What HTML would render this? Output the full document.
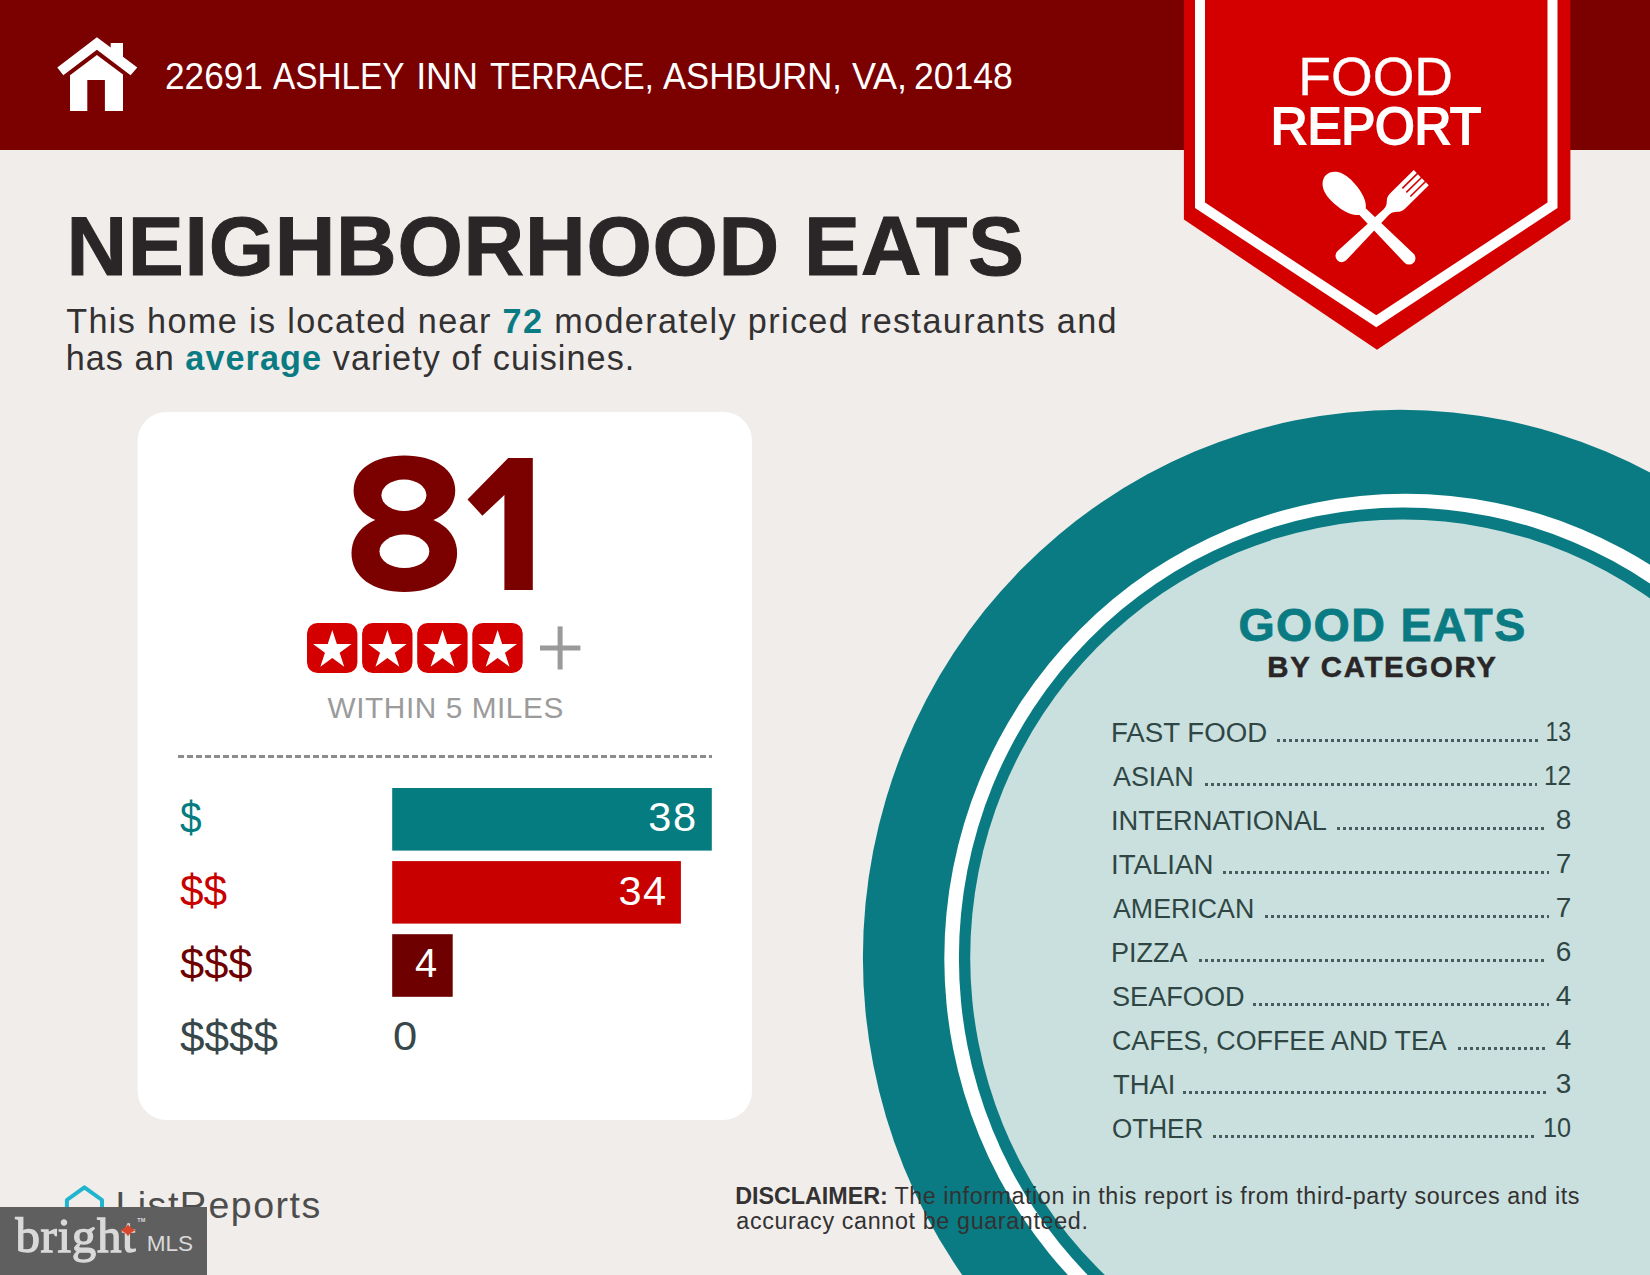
<!DOCTYPE html>
<html lang="en">
<head>
<meta charset="utf-8">
<title>Food Report - Neighborhood Eats</title>
<style>
html,body{margin:0;padding:0;}
body{width:1650px;height:1275px;position:relative;overflow:hidden;background:#f1edea;font-family:"Liberation Sans",sans-serif;}
.abs{position:absolute;}
.t{position:absolute;white-space:nowrap;line-height:1;margin:0;padding:0;}
.t b{font-weight:700;}
.teal{color:#0a7b82;}
svg{position:absolute;left:0;top:0;overflow:visible;}
.dots{position:absolute;height:3px;background-image:repeating-linear-gradient(90deg,#35504e 0,#35504e 3px,transparent 3px,transparent 6px);opacity:.9;}
</style>
</head>
<body>
<!-- background shapes -->
<svg width="1650" height="1275" viewBox="0 0 1650 1275">
  <!-- plate circles -->
  <ellipse cx="1400.3" cy="957.7" rx="537.4" ry="547.9" fill="#0a7b82"/>
  <ellipse cx="1405.3" cy="958.4" rx="461" ry="464.6" fill="#ffffff"/>
  <ellipse cx="1403.1" cy="957.9" rx="444.2" ry="450.3" fill="#0a7b82"/>
  <ellipse cx="1402.4" cy="957.4" rx="432.2" ry="437.9" fill="#c9e0de"/>
  <!-- header band -->
  <rect x="0" y="0" width="1650" height="150" fill="#7b0000"/>
  <!-- badge -->
  <polygon points="1183.9,0 1570.4,0 1570.4,219.4 1377,349.7 1183.9,219.4" fill="#d40000"/>
  <polyline points="1200,-5 1200,205.3 1376.3,321.2 1552.5,205.3 1552.5,-5" fill="none" stroke="#ffffff" stroke-width="10" stroke-linejoin="miter"/>
  <!-- house icon -->
  <g fill="#ffffff">
    <path d="M96.9,37.3 L57.3,67.5 L63.3,75.2 L96.9,49.8 L130.6,75.2 L137.3,67.5 L123,56.8 L123,42.9 L110.7,42.9 L110.7,47.6 Z"/>
    <path d="M96.9,54.9 L70,75.2 L70,111 L87.3,111 L87.3,80.1 L104.9,80.1 L104.9,111 L123,111 L123,74.6 Z"/>
  </g>
  <!-- spoon & fork -->
  <g fill="#ffffff">
    <g transform="translate(1326,175.1) rotate(-45)">
      <path d="M0,0 C8,0 14.4,8 14.4,21 C14.4,35 11,47 4.6,51.5 L6.4,117.5 A6.4,6.4 0 0 1 -6.4,117.5 L-4.6,51.5 C-11,47 -14.4,35 -14.4,21 C-14.4,8 -8,0 0,0 Z"/>
    </g>
    <g transform="translate(1421.3,177.7) rotate(45.5)">
      <path d="M-10.7,0 L-6.5,0 L-6.5,21 L-4.9,21 L-4.9,0 L-0.8,0 L-0.8,21 L0.8,21 L0.8,0 L4.9,0 L4.9,21 L6.5,21 L6.5,0 L10.7,0 L10.7,33 C10.7,42 4.4,40 3.8,49 L6.3,111.5 A6.3,6.3 0 0 1 -6.3,111.5 L-3.8,49 C-4.4,40 -10.7,42 -10.7,33 Z"/>
    </g>
  </g>
  <!-- card -->
  <rect x="137.6" y="411.9" width="614.5" height="708.1" rx="29" ry="29" fill="#ffffff"/>
  <!-- big score 81 -->
  <g fill="#7b0000" aria-label="81">
    <path d="M353.6,490.5 C353.6,469.5 373.9,455.5 404.4,455.5 C434.9,455.5 455.2,469.5 455.2,490.5 C455.2,511.5 434.9,525.5 404.4,525.5 C373.9,525.5 353.6,511.5 353.6,490.5 Z"/>
    <path d="M351.5,553.3 C351.5,530.0 372.6,514.5 404.3,514.5 C436.0,514.5 457.1,530.0 457.1,553.3 C457.1,576.6 436.0,592.1 404.3,592.1 C372.6,592.1 351.5,576.6 351.5,553.3 Z"/>
    <path d="M508.2,458.1 L532.8,458.1 L532.8,590.1 L504.4,590.1 L504.4,495 L482.4,515.7 L467.5,499.5 Z"/>
  </g>
  <g fill="#ffffff">
    <ellipse cx="403.9" cy="495.2" rx="22.5" ry="15.7"/>
    <ellipse cx="404.4" cy="551.3" rx="24.9" ry="16.8"/>
  </g>
  <!-- star boxes -->
  <g fill="#d40000">
    <rect x="307" y="623" width="50.4" height="50" rx="10.5"/>
    <rect x="362.1" y="623" width="50.4" height="50" rx="10.5"/>
    <rect x="417.2" y="623" width="50.4" height="50" rx="10.5"/>
    <rect x="472.3" y="623" width="50.4" height="50" rx="10.5"/>
  </g>
  <g fill="#ffffff">
    <path d="M0,-20.3 L4.56,-6.27 L19.31,-6.27 L7.37,2.4 L11.93,16.42 L0,7.75 L-11.93,16.42 L-7.37,2.4 L-19.31,-6.27 L-4.56,-6.27 Z" transform="translate(332.3,650.3)"/>
    <path d="M0,-20.3 L4.56,-6.27 L19.31,-6.27 L7.37,2.4 L11.93,16.42 L0,7.75 L-11.93,16.42 L-7.37,2.4 L-19.31,-6.27 L-4.56,-6.27 Z" transform="translate(387.4,650.3)"/>
    <path d="M0,-20.3 L4.56,-6.27 L19.31,-6.27 L7.37,2.4 L11.93,16.42 L0,7.75 L-11.93,16.42 L-7.37,2.4 L-19.31,-6.27 L-4.56,-6.27 Z" transform="translate(442.5,650.3)"/>
    <path d="M0,-20.3 L4.56,-6.27 L19.31,-6.27 L7.37,2.4 L11.93,16.42 L0,7.75 L-11.93,16.42 L-7.37,2.4 L-19.31,-6.27 L-4.56,-6.27 Z" transform="translate(497.6,650.3)"/>
  </g>
  <!-- plus -->
  <rect x="540" y="645.5" width="40.4" height="5" fill="#9a9a9a"/>
  <rect x="557.6" y="626.4" width="5" height="43.1" fill="#9a9a9a"/>
  <!-- dashed divider -->
  <line x1="178" y1="756.5" x2="712" y2="756.5" stroke="#8c8c8c" stroke-width="3" stroke-dasharray="6 3"/>
  <!-- bars -->
  <rect x="392.2" y="788" width="319.6" height="62.6" fill="#057c80"/>
  <rect x="392.2" y="861.1" width="288.7" height="62.5" fill="#c80000"/>
  <rect x="392.2" y="934.2" width="60.5" height="62.6" fill="#6e0000"/>
  <!-- ListReports house mark -->
  <path d="M84.4,1187.3 L66.9,1200 L66.9,1225 L102,1225 L102,1200 Z" fill="none" stroke="#1fb5cf" stroke-width="4" stroke-linejoin="round"/>
</svg>
<div class="score-text" style="position:absolute;white-space:nowrap;line-height:1;left:351px;top:430px;font-size:190px;font-weight:700;color:transparent;letter-spacing:-12px;">81</div>
<div class="t" style="font-family:'Liberation Sans',sans-serif;font-size:36px;font-weight:400;color:#ffffff;top:59.32px;left:164.72px;transform:scaleX(0.9777);transform-origin:0 0;">22691</div>
<div class="t" style="font-family:'Liberation Sans',sans-serif;font-size:36px;font-weight:400;color:#ffffff;top:59.32px;left:273.40px;transform:scaleX(0.9263);transform-origin:0 0;">ASHLEY</div>
<div class="t" style="font-family:'Liberation Sans',sans-serif;font-size:36px;font-weight:400;color:#ffffff;top:59.32px;left:416.30px;letter-spacing:-0.201px;">INN</div>
<div class="t" style="font-family:'Liberation Sans',sans-serif;font-size:36px;font-weight:400;color:#ffffff;top:59.32px;left:490.20px;transform:scaleX(0.8993);transform-origin:0 0;">TERRACE,</div>
<div class="t" style="font-family:'Liberation Sans',sans-serif;font-size:36px;font-weight:400;color:#ffffff;top:59.32px;left:663.00px;transform:scaleX(0.9610);transform-origin:0 0;">ASHBURN,</div>
<div class="t" style="font-family:'Liberation Sans',sans-serif;font-size:36px;font-weight:400;color:#ffffff;top:59.32px;left:851.90px;letter-spacing:-0.129px;">VA,</div>
<div class="t" style="font-family:'Liberation Sans',sans-serif;font-size:36px;font-weight:400;color:#ffffff;top:59.32px;left:914.31px;transform:scaleX(0.9879);transform-origin:0 0;">20148</div>
<div class="t" style="font-family:'Liberation Sans',sans-serif;font-size:84px;font-weight:700;color:#2a2627;top:203.58px;left:66.40px;letter-spacing:0.737px;-webkit-text-stroke:1px #2a2627;">NEIGHBORHOOD EATS</div>
<div class="t" style="font-family:'Liberation Sans',sans-serif;font-size:34.2px;font-weight:400;color:#333132;top:304.24px;left:66.20px;letter-spacing:1.363px;">This home is located near <b class="teal">72</b> moderately priced restaurants and</div>
<div class="t" style="font-family:'Liberation Sans',sans-serif;font-size:34.2px;font-weight:400;color:#333132;top:341.44px;left:65.70px;letter-spacing:1.075px;">has an <b class="teal">average</b> variety of cuisines.</div>
<div class="t" style="font-family:'Liberation Sans',sans-serif;font-size:53.6px;font-weight:400;color:#ffffff;top:50.02px;left:1298.20px;letter-spacing:0.025px;-webkit-text-stroke:0.3px #ffffff;">FOOD</div>
<div class="t" style="font-family:'Liberation Sans',sans-serif;font-size:51px;font-weight:400;color:#ffffff;top:101.22px;left:1270.80px;letter-spacing:-0.231px;-webkit-text-stroke:2px #ffffff;">REPORT</div>
<div class="t" style="font-family:'Liberation Sans',sans-serif;font-size:29.8px;font-weight:400;color:#9b9b9b;top:692.87px;left:327.60px;letter-spacing:0.554px;">WITHIN 5 MILES</div>
<div class="t" style="font-family:'Liberation Sans',sans-serif;font-size:44.5px;font-weight:400;color:#057c80;top:796.02px;left:179.60px;transform:scaleX(0.8720);transform-origin:0 0;">$</div>
<div class="t" style="font-family:'Liberation Sans',sans-serif;font-size:44.5px;font-weight:400;color:#c80000;top:869.02px;left:179.60px;transform:scaleX(0.9507);transform-origin:0 0;">$$</div>
<div class="t" style="font-family:'Liberation Sans',sans-serif;font-size:44.5px;font-weight:400;color:#6e0000;top:942.02px;left:179.60px;transform:scaleX(0.9758);transform-origin:0 0;">$$$</div>
<div class="t" style="font-family:'Liberation Sans',sans-serif;font-size:44.5px;font-weight:400;color:#37474a;top:1015.02px;left:179.60px;transform:scaleX(0.9914);transform-origin:0 0;">$$$$</div>
<div class="t" style="font-family:'Liberation Sans',sans-serif;font-size:41.5px;font-weight:400;color:#ffffff;top:796.46px;left:648.20px;letter-spacing:1.808px;">38</div>
<div class="t" style="font-family:'Liberation Sans',sans-serif;font-size:41.5px;font-weight:400;color:#ffffff;top:869.66px;left:618.40px;letter-spacing:1.608px;">34</div>
<div class="t" style="font-family:'Liberation Sans',sans-serif;font-size:41.3px;font-weight:400;color:#ffffff;top:942.93px;left:414.50px;transform:scaleX(0.9636);transform-origin:0 0;">4</div>
<div class="t" style="font-family:'Liberation Sans',sans-serif;font-size:41.3px;font-weight:400;color:#37474a;top:1015.63px;left:392.95px;transform:scaleX(1.0523);transform-origin:0 0;">0</div>
<div class="t" style="font-family:'Liberation Sans',sans-serif;font-size:46.6px;font-weight:700;color:#0a7b82;top:601.64px;left:1238.40px;letter-spacing:1.342px;-webkit-text-stroke:0.8px #0a7b82;">GOOD EATS</div>
<div class="t" style="font-family:'Liberation Sans',sans-serif;font-size:29.4px;font-weight:700;color:#2a2627;top:652.26px;left:1267.25px;letter-spacing:1.685px;-webkit-text-stroke:0.5px #2a2627;">BY CATEGORY</div>
<div class="t" style="font-family:'Liberation Sans',sans-serif;font-size:28.2px;font-weight:400;color:#2f4644;top:718.02px;left:1111.24px;transform:scaleX(0.9803);transform-origin:0 0;">FAST FOOD</div>
<div class="t" style="font-family:'Liberation Sans',sans-serif;font-size:28px;font-weight:400;color:#2f4644;top:718.19px;right:78.83px;transform:scaleX(0.8256);transform-origin:100% 0;">13</div>
<div class="t" style="font-family:'Liberation Sans',sans-serif;font-size:28.2px;font-weight:400;color:#2f4644;top:762.02px;left:1113.20px;transform:scaleX(0.9539);transform-origin:0 0;">ASIAN</div>
<div class="t" style="font-family:'Liberation Sans',sans-serif;font-size:28px;font-weight:400;color:#2f4644;top:762.19px;right:78.80px;transform:scaleX(0.8746);transform-origin:100% 0;">12</div>
<div class="t" style="font-family:'Liberation Sans',sans-serif;font-size:28.2px;font-weight:400;color:#2f4644;top:806.02px;left:1111.27px;transform:scaleX(0.9667);transform-origin:0 0;">INTERNATIONAL</div>
<div class="t" style="font-family:'Liberation Sans',sans-serif;font-size:28px;font-weight:400;color:#2f4644;top:806.19px;right:78.73px;">8</div>
<div class="t" style="font-family:'Liberation Sans',sans-serif;font-size:28.2px;font-weight:400;color:#2f4644;top:850.02px;left:1111.24px;transform:scaleX(0.9804);transform-origin:0 0;">ITALIAN</div>
<div class="t" style="font-family:'Liberation Sans',sans-serif;font-size:28px;font-weight:400;color:#2f4644;top:850.19px;right:78.73px;">7</div>
<div class="t" style="font-family:'Liberation Sans',sans-serif;font-size:28.2px;font-weight:400;color:#2f4644;top:894.02px;left:1113.20px;transform:scaleX(0.9495);transform-origin:0 0;">AMERICAN</div>
<div class="t" style="font-family:'Liberation Sans',sans-serif;font-size:28px;font-weight:400;color:#2f4644;top:894.19px;right:78.73px;">7</div>
<div class="t" style="font-family:'Liberation Sans',sans-serif;font-size:28.2px;font-weight:400;color:#2f4644;top:938.02px;left:1111.28px;transform:scaleX(0.9593);transform-origin:0 0;">PIZZA</div>
<div class="t" style="font-family:'Liberation Sans',sans-serif;font-size:28px;font-weight:400;color:#2f4644;top:938.19px;right:78.73px;">6</div>
<div class="t" style="font-family:'Liberation Sans',sans-serif;font-size:28.2px;font-weight:400;color:#2f4644;top:982.02px;left:1112.24px;transform:scaleX(0.9618);transform-origin:0 0;">SEAFOOD</div>
<div class="t" style="font-family:'Liberation Sans',sans-serif;font-size:28px;font-weight:400;color:#2f4644;top:982.19px;right:78.73px;">4</div>
<div class="t" style="font-family:'Liberation Sans',sans-serif;font-size:28.2px;font-weight:400;color:#2f4644;top:1026.02px;left:1112.25px;transform:scaleX(0.9513);transform-origin:0 0;">CAFES, COFFEE AND TEA</div>
<div class="t" style="font-family:'Liberation Sans',sans-serif;font-size:28px;font-weight:400;color:#2f4644;top:1026.19px;right:78.73px;">4</div>
<div class="t" style="font-family:'Liberation Sans',sans-serif;font-size:28.2px;font-weight:400;color:#2f4644;top:1070.02px;left:1113.20px;transform:scaleX(0.9714);transform-origin:0 0;">THAI</div>
<div class="t" style="font-family:'Liberation Sans',sans-serif;font-size:28px;font-weight:400;color:#2f4644;top:1070.19px;right:78.73px;">3</div>
<div class="t" style="font-family:'Liberation Sans',sans-serif;font-size:28.2px;font-weight:400;color:#2f4644;top:1114.02px;left:1112.28px;transform:scaleX(0.9250);transform-origin:0 0;">OTHER</div>
<div class="t" style="font-family:'Liberation Sans',sans-serif;font-size:28px;font-weight:400;color:#2f4644;top:1114.19px;right:78.78px;transform:scaleX(0.9026);transform-origin:100% 0;">10</div>
<div class="t" style="font-family:'Liberation Sans',sans-serif;font-size:23.3px;font-weight:700;color:#333132;top:1185.17px;left:735.30px;letter-spacing:-0.026px;">DISCLAIMER:</div>
<div class="t" style="font-family:'Liberation Sans',sans-serif;font-size:23.3px;font-weight:400;color:#333132;top:1185.17px;left:894.40px;letter-spacing:0.578px;">The information in this report is from third-party sources and its</div>
<div class="t" style="font-family:'Liberation Sans',sans-serif;font-size:23.3px;font-weight:400;color:#333132;top:1210.07px;left:736.30px;letter-spacing:0.645px;">accuracy cannot be guaranteed.</div>
<div class="t" style="font-family:'Liberation Sans',sans-serif;font-size:37.5px;font-weight:400;color:#4d4d4d;top:1186.85px;left:115.40px;letter-spacing:1.518px;">ListReports</div>
<!-- dotted leaders -->
<div class="dots" style="left:1277.3px;top:738.9px;width:261.2px;"></div>
<div class="dots" style="left:1204.5px;top:782.9px;width:332.8px;"></div>
<div class="dots" style="left:1337.0px;top:826.9px;width:207.5px;"></div>
<div class="dots" style="left:1222.7px;top:870.9px;width:326.7px;"></div>
<div class="dots" style="left:1264.5px;top:914.9px;width:284.9px;"></div>
<div class="dots" style="left:1199.1px;top:958.9px;width:344.8px;"></div>
<div class="dots" style="left:1253.0px;top:1002.9px;width:295.5px;"></div>
<div class="dots" style="left:1457.6px;top:1046.9px;width:90.3px;"></div>
<div class="dots" style="left:1183.3px;top:1090.9px;width:364.6px;"></div>
<div class="dots" style="left:1213.0px;top:1134.9px;width:322.8px;"></div>
<!-- bright MLS watermark -->
<div class="abs" style="left:0;top:1207.2px;width:206.8px;height:68px;background:#5f5f5f;"></div>

<div class="t" style="font-family:'Liberation Serif',serif;font-size:49px;font-weight:400;color:#d9d9d9;top:1210.97px;left:15.50px;letter-spacing:0.613px;-webkit-text-stroke:1.3px #d9d9d9;">bright</div>
<div class="t" style="font-family:'Liberation Sans',sans-serif;font-size:22.6px;font-weight:400;color:#d9d9d9;top:1233.46px;left:146.70px;">MLS</div>
<div class="t" style="font-family:'Liberation Sans',sans-serif;font-size:5.5px;font-weight:700;color:#d9d9d9;top:1218.34px;left:137.30px;">TM</div>
<svg width="1650" height="1275" viewBox="0 0 1650 1275"><path d="M119.8,1230.3 Q125.5,1228.6 128,1224.3 Q130.5,1228.6 136.2,1230.3 Q130.5,1232 128,1236.3 Q125.5,1232 119.8,1230.3 Z" fill="#d9482b"/></svg>
</body>
</html>
